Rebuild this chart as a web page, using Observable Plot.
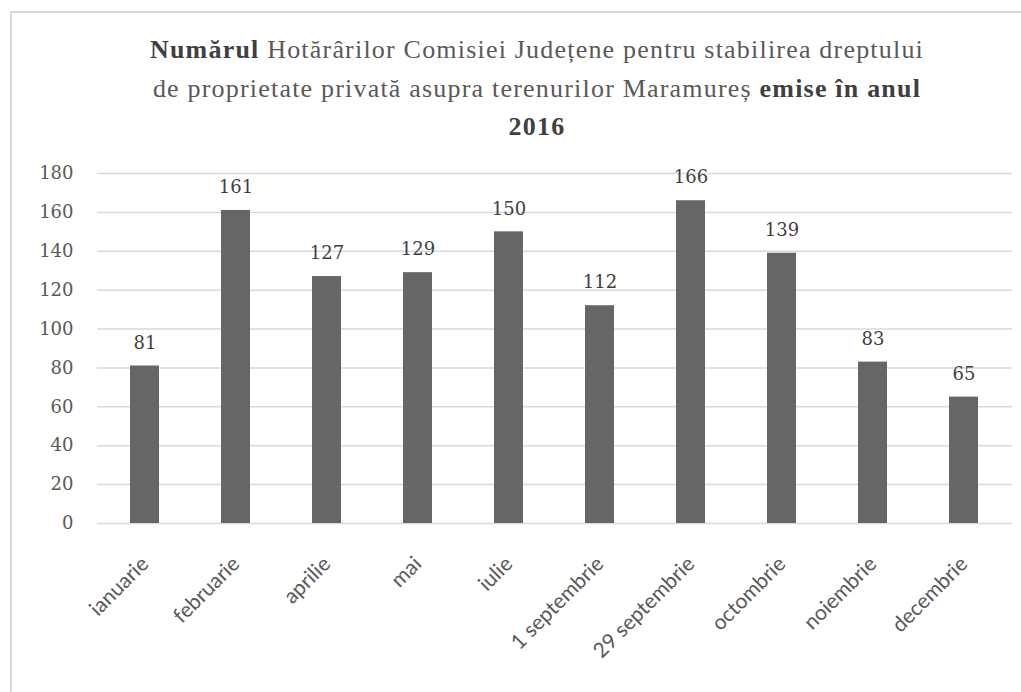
<!DOCTYPE html>
<html>
<head>
<meta charset="utf-8">
<script src="https://cdn.jsdelivr.net/npm/d3@7"></script>
<script src="https://cdn.jsdelivr.net/npm/@observablehq/plot@0.6"></script>
<style>
  html, body { margin: 0; padding: 0; background: #fff; }
  #wrap { position: relative; width: 1021px; height: 692px; overflow: hidden; background: #fff; }
  #frame { position: absolute; left: 10px; top: 11px; width: 1030px; height: 700px;
           border-top: 2px solid #d9d9d9; border-left: 2px solid #d9d9d9; }
  #title { position: absolute; left: 0; top: 31px; width: 1074px; text-align: center;
           font-family: "Liberation Serif", "Times New Roman", serif; font-size: 26px;
           letter-spacing: 1.2px; line-height: 38.5px; color: #595959; }
  #title b { color: #404040; }
  #chart { position: absolute; left: 0; top: 150px; }
</style>
</head>
<body>
<div id="wrap">
  <div id="frame"></div>
  <div id="title"><b>Numărul</b> Hotărârilor Comisiei Județene pentru stabilirea dreptului<br>de proprietate privată asupra terenurilor Maramureș <b>emise în anul</b><br><b>2016</b></div>
  <div id="chart"></div>
</div>
<script>
const categories = ["ianuarie", "februarie", "aprilie", "mai", "iulie", "1 septembrie", "29 septembrie", "octombrie", "noiembrie", "decembrie"];
const values = [81, 161, 127, 129, 150, 112, 166, 139, 83, 65];
const yTicks = [0, 20, 40, 60, 80, 100, 120, 140, 160, 180];

const data = categories.map((c, i) => ({category: c, value: values[i]}));

const chart = Plot.plot({
  width: 1021,
  height: 540,
  marginTop: 23,
  marginBottom: 167,
  marginLeft: 97,
  marginRight: 9,
  style: {background: "transparent", overflow: "visible"},
  x: {domain: categories, paddingInner: 0.68, paddingOuter: 0.34, label: null},
  y: {domain: [0, 180], label: null},
  marks: [
    Plot.ruleY(yTicks, {stroke: "#d9d9d9", strokeWidth: 1.5}),
    Plot.barY(data, {x: "category", y: "value", fill: "#666666"}),
    Plot.text(data, {x: "category", y: "value", text: d => String(d.value), dy: -23,
      fill: "#404040", fontSize: 18, fontFamily: "DejaVu Serif", lineAnchor: "middle"}),
    Plot.axisY(yTicks, {tickSize: 0, tickPadding: 24, fontSize: 18, fontFamily: "DejaVu Serif",
      color: "#595959", label: null}),
    Plot.axisX({tickSize: 0, tickPadding: 37, tickRotate: -45, fontSize: 21,
      fontFamily: "Lato", color: "#595959", label: null})
  ]
});
document.getElementById("chart").appendChild(chart);
</script>
</body>
</html>
